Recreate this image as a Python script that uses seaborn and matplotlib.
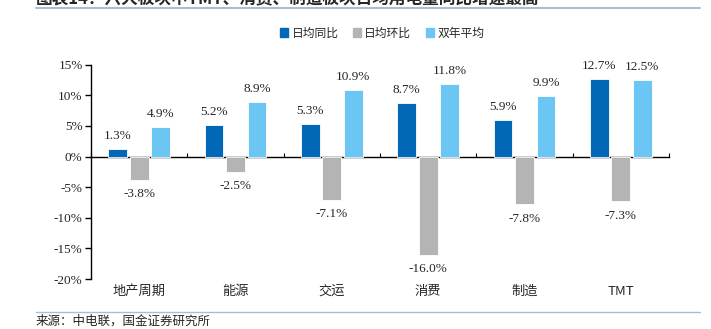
import matplotlib
matplotlib.use("Agg")
import matplotlib.pyplot as plt
import seaborn as sns
import pandas as pd
import numpy as np
from matplotlib.lines import Line2D
from matplotlib.patches import Rectangle

categories = ["地产周期", "能源", "交运", "消费", "制造", "TMT"]
series_names = ["日均同比", "日均环比", "双年平均"]
yoy = [1.3, 5.2, 5.3, 8.7, 5.9, 12.7]
mom = [-3.8, -2.5, -7.1, -16.0, -7.8, -7.3]
two_year = [4.9, 8.9, 10.9, 11.8, 9.9, 12.5]
yticks = [15, 10, 5, 0, -5, -10, -15, -20]
title = "图表14：六大板块中TMT、消费、制造板块日均用电量同比增速最高"
source = "来源：中电联，国金证券研究所"

colors = ["#0068B7", "#B4B4B4", "#6CC6F4"]

sns.set_theme(style="white")
plt.rcParams['font.family'] = ['Liberation Serif', 'Noto Sans CJK SC', 'DejaVu Sans']
plt.rcParams['axes.unicode_minus'] = False

df = pd.DataFrame({
    "cat": categories * 3,
    "series": sum([[s] * len(categories) for s in series_names], []),
    "val": yoy + mom + two_year,
})

fig = plt.figure(figsize=(7.11, 3.29), dpi=100)
ax = fig.add_axes([91/711, 1-279/329, (669-91)/711, (279-64.7)/329])

sns.barplot(data=df, x="cat", y="val", hue="series", hue_order=series_names,
            order=categories, palette=colors, width=0.67, gap=0.12,
            ax=ax, legend=False, saturation=1, edgecolor="white", linewidth=0.6)

ax.set_ylim(-20, 15)
ax.set_xlim(-0.5, len(categories) - 0.5)
ax.set_yticks(yticks)
ax.set_yticklabels([f"{t}%" for t in yticks], fontsize=9.5, family=['Liberation Serif'])
ax.tick_params(axis='y', direction='out', length=4, width=1, color='black', pad=2, left=True)
ax.set_xticks(range(len(categories)))
ax.set_xticklabels(categories, fontsize=9.5, family=['Noto Sans CJK SC', 'Liberation Serif'])
ax.tick_params(axis='x', length=0, pad=4)
ax.set_xlabel("")
ax.set_ylabel("")
for s in ["top", "right", "bottom"]:
    ax.spines[s].set_visible(False)
ax.spines["left"].set_color("black")
ax.spines["left"].set_linewidth(1)

# zero line with category boundary ticks (pointing up)
sec = ax.secondary_xaxis(20/35)
sec.set_xticks(np.arange(len(categories) + 1) - 0.5)
sec.set_xticklabels([])
sec.tick_params(direction='out', length=3, width=0.8, color='black')
for sp in sec.spines.values():
    sp.set_color('black')
    sp.set_linewidth(1)

# value labels
for cont in ax.containers:
    for rect in cont:
        h = rect.get_height()
        xc = rect.get_x() + rect.get_width() / 2
        if h >= 0:
            ax.annotate(f"{h:.1f}%", (xc, h), xytext=(0, 5), textcoords="offset points",
                        ha="center", va="bottom", fontsize=9.5, family=['Liberation Serif'])
        else:
            ax.annotate(f"{h:.1f}%", (xc, h), xytext=(0, -6), textcoords="offset points",
                        ha="center", va="top", fontsize=9.5, family=['Liberation Serif'])

# legend
handles = [Rectangle((0, 0), 1, 1, color=c) for c in colors]
fig.legend(handles, series_names, loc="center", bbox_to_anchor=(382/711, 1-33/329),
           ncol=3, frameon=False, handlelength=0.7, handleheight=0.7,
           handletextpad=0.3, columnspacing=1.2,
           prop={'family': ['Noto Sans CJK SC'], 'size': 8.5})

# title (clipped at top, as in reference) and source
fig.text(36/711, 1 + 1/329, title, ha="left", va="center", fontsize=12, fontweight="bold",
         family=['Noto Sans CJK SC'])
fig.add_artist(Line2D([36/711, 700/711], [1-8/329, 1-8/329], color="#A9BFCF", lw=1.5))
fig.add_artist(Line2D([36/711, 700/711], [1-312/329, 1-312/329], color="#A9BFCF", lw=1))
fig.text(36/711, 1-321/329, source, ha="left", va="center", fontsize=9,
         family=['Noto Sans CJK SC'])

fig.savefig("out.png", dpi=100)
